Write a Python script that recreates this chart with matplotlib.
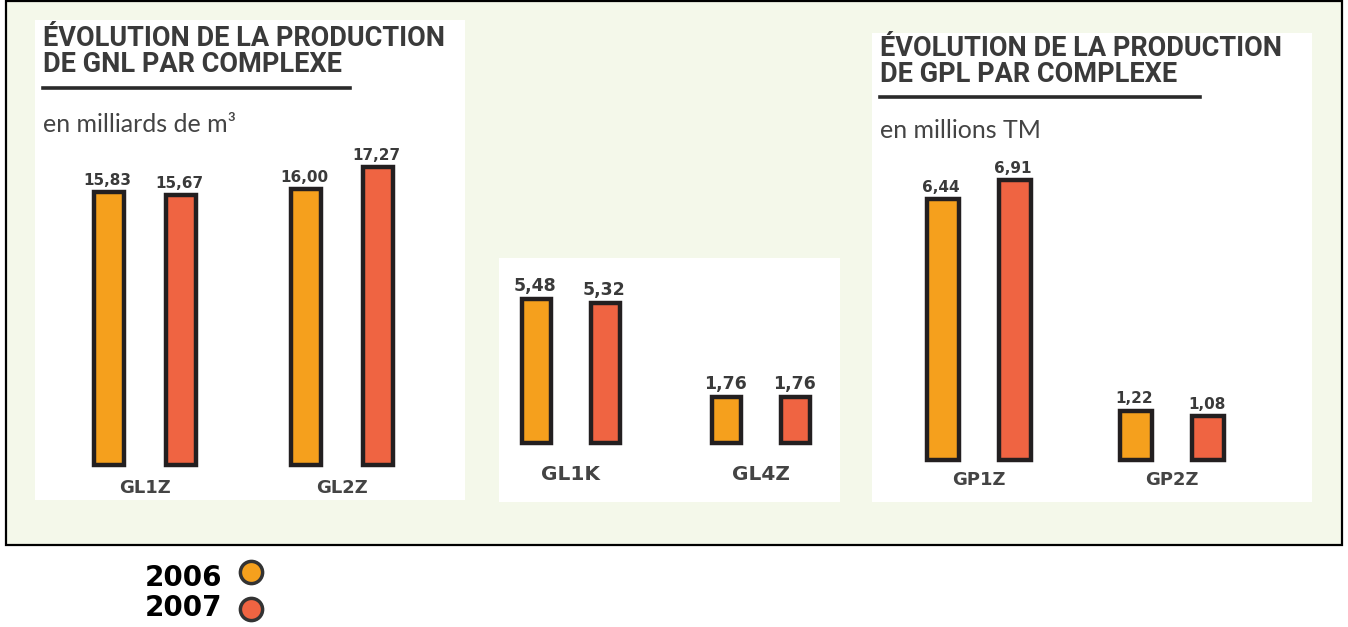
import matplotlib
matplotlib.use("Agg")
import matplotlib.pyplot as plt
from matplotlib.patches import Rectangle
from matplotlib.lines import Line2D

# ---------------- data ----------------
years = ["2006", "2007"]
gnl_a_categories = ["GL1Z", "GL2Z"]
gnl_a_2006 = [15.83, 16.00]
gnl_a_2007 = [15.67, 17.27]

gnl_b_categories = ["GL1K", "GL4Z"]
gnl_b_2006 = [5.48, 1.76]
gnl_b_2007 = [5.32, 1.76]

gpl_categories = ["GP1Z", "GP2Z"]
gpl_2006 = [6.44, 1.22]
gpl_2007 = [6.91, 1.08]

title_gnl = "ÉVOLUTION DE LA PRODUCTION\nDE GNL PAR COMPLEXE"
unit_gnl = "en milliards de m³"
title_gpl = "ÉVOLUTION DE LA PRODUCTION\nDE GPL PAR COMPLEXE"
unit_gpl = "en millions TM"

# ---------------- style ----------------
C06 = "#F5A01D"
C07 = "#EF6442"
EDGE = "#231F20"
BG = "#F4F8EA"
TXT = "#3A3A3A"

W, H = 1348, 627
fig = plt.figure(figsize=(W / 100, H / 100), dpi=100)
fig.patch.set_facecolor("white")


def frac_rect(x0, y0, x1, y1):
    return [x0 / W, 1 - y1 / H, (x1 - x0) / W, (y1 - y0) / H]


# outer framed background
fig.patches.append(Rectangle((6 / W, 1 - 545 / H), (1342 - 6) / W, 544 / H,
                             transform=fig.transFigure, facecolor=BG,
                             edgecolor="black", linewidth=1.6, zorder=0))


def panel(rect_px, baseline_px, c0_px, spacing_px, offset_px, width_px, ppu,
          cats, v06, v07, val_fs, cat_fs, cat_y_px, val_off):
    x0, y0, x1, y1 = rect_px
    fig.patches.append(Rectangle((x0 / W, 1 - y1 / H), (x1 - x0) / W, (y1 - y0) / H,
                                 transform=fig.transFigure, facecolor="white",
                                 edgecolor="none", zorder=1))
    ax = fig.add_axes(frac_rect(x0, y0, x1, baseline_px))
    ax.set_zorder(2)
    ax.patch.set_visible(False)
    ax.set_xlim((x0 - c0_px) / spacing_px, (x1 - c0_px) / spacing_px)
    ax.set_ylim(0, (baseline_px - y0) / ppu)
    ax.axis("off")
    off = offset_px / spacing_px
    w = width_px / spacing_px
    xs = list(range(len(cats)))
    for vals, color, sgn in ((v06, C06, -1), (v07, C07, 1)):
        pos = [x + sgn * off for x in xs]
        ax.bar(pos, vals, width=w, color=color, edgecolor=EDGE, linewidth=3.2,
               clip_on=False)
        for p, v in zip(pos, vals):
            ax.annotate(f"{v:.2f}".replace(".", ","), (p, v), xytext=(-1, val_off),
                        textcoords="offset points", ha="center", va="bottom",
                        fontsize=val_fs, fontweight="bold", color=TXT,
                        family="DejaVu Sans", annotation_clip=False)
    for x, c in zip(xs, cats):
        fig.text((c0_px + x * spacing_px) / W, 1 - cat_y_px / H, c, ha="center",
                 va="center", fontsize=cat_fs, fontweight="bold", color="#444444",
                 family="DejaVu Sans")
    return ax


panel((35, 20, 465, 500), 465, 145, 197, 36, 30, 17.25,
      gnl_a_categories, gnl_a_2006, gnl_a_2007, 11, 13, 488, 3)
panel((499, 258, 840, 502), 443, 571, 190, 34.5, 29, 26.3,
      gnl_b_categories, gnl_b_2006, gnl_b_2007, 12.5, 14.5, 475, 3)
panel((872, 33, 1312, 502), 460, 978.5, 193.5, 36, 32, 40.5,
      gpl_categories, gpl_2006, gpl_2007, 11, 13, 480, 3)

# titles, underlines, units
for tx, ty, title, ux1, uy, unit, unity in (
        (43, 25, title_gnl, 350, 88, unit_gnl, 125),
        (880, 35, title_gpl, 1200, 97, unit_gpl, 131)):
    fig.text(tx / W, 1 - ty / H, title, ha="left", va="top", fontsize=19.5,
             fontweight="bold", color=TXT, family="Roboto", linespacing=0.97,
             zorder=5)
    fig.lines.append(Line2D([tx / W, ux1 / W], [1 - uy / H, 1 - uy / H],
                            transform=fig.transFigure, color="#2a2a2a",
                            linewidth=2.6, zorder=5))
    fig.text(tx / W, 1 - unity / H, unit, ha="left", va="center", fontsize=18,
             color="#444444", family="Lato", zorder=5)

# legend
for yr, color, ly, cy in zip(years, (C06, C07), (578, 608), (572, 609)):
    fig.text(222 / W, 1 - ly / H, yr, ha="right", va="center", fontsize=20,
             fontweight="heavy", color="black", family="DejaVu Sans")
    fig.lines.append(Line2D([251 / W], [1 - cy / H], marker="o",
                            markersize=16, markerfacecolor=color,
                            markeredgecolor="#333333", markeredgewidth=2.5,
                            transform=fig.transFigure, linestyle="none"))

fig.savefig("out.png", dpi=100, facecolor="white")
